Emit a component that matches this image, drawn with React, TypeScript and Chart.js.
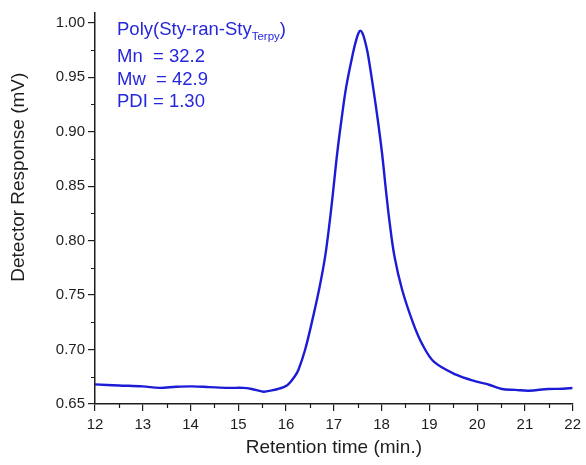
import React, { useEffect, useRef } from "react";
import { Chart, registerables } from "chart.js";

Chart.register(...registerables);

const RETENTION_TIME = [
  12.0, 12.5, 13.0, 13.35, 13.7, 14.04, 14.4, 14.8, 15.1, 15.28, 15.53, 15.7, 15.83, 15.95,
  16.04, 16.18, 16.26, 16.4, 16.55, 16.7, 16.82, 16.91, 16.98, 17.07, 17.16, 17.26, 17.4,
  17.47, 17.515, 17.555, 17.6, 17.645, 17.71, 17.82, 17.92, 18.01, 18.09, 18.17, 18.27, 18.43,
  18.66, 18.85, 19.1, 19.56, 19.97, 20.25, 20.52, 20.8, 21.08, 21.49, 21.8, 22.0,
];
const RESPONSE = [
  0.668, 0.667, 0.6662, 0.6648, 0.6658, 0.6662, 0.6655, 0.6648, 0.6648, 0.6638, 0.6613, 0.6625,
  0.6638, 0.6655, 0.6677, 0.6753, 0.6815, 0.7, 0.727, 0.757, 0.786, 0.816, 0.843, 0.88,
  0.911, 0.9414, 0.972, 0.9845, 0.9905, 0.9928, 0.9905, 0.9845, 0.972, 0.9414, 0.911, 0.88,
  0.8466, 0.816, 0.7854, 0.7549, 0.7243, 0.705, 0.6886, 0.6769, 0.6707, 0.6677, 0.6638, 0.663,
  0.6622, 0.6638, 0.664, 0.6647,
];
const X_MAJOR = [12, 13, 14, 15, 16, 17, 18, 19, 20, 21, 22];
const X_MINOR = [12.5, 13.5, 14.5, 15.5, 16.5, 17.5, 18.5, 19.5, 20.5, 21.5];
const Y_MAJOR = [0.65, 0.7, 0.75, 0.8, 0.85, 0.9, 0.95, 1.0];
const Y_MINOR = [0.675, 0.725, 0.775, 0.825, 0.875, 0.925, 0.975];
const ANNOTATION_TITLE = "Poly(Sty-ran-Sty";
const ANNOTATION_SUB = "Terpy";
const ANNOTATION_LINES = ["Mn  = 32.2", "Mw  = 42.9", "PDI = 1.30"];
const X_TITLE = "Retention time (min.)";
const Y_TITLE = "Detector Response (mV)";

const FONT = 'Arial, "Liberation Sans", Helvetica, sans-serif';
const AXIS_COLOR = "#1e1e1e";
const BLUE = "#1c1cd6";
const TEXT_BLUE = "#2626dc";

const extrasPlugin = {
  id: "extras",
  afterDraw(chart: any) {
    const ctx = chart.ctx;
    const xs = chart.scales.x;
    const ys = chart.scales.y;
    const area = chart.chartArea;
    ctx.save();
    ctx.strokeStyle = AXIS_COLOR;
    ctx.lineWidth = 1.2;
    ctx.beginPath();
    for (const v of X_MINOR) {
      const px = Math.round(xs.getPixelForValue(v)) + 0.5;
      ctx.moveTo(px, area.bottom);
      ctx.lineTo(px, area.bottom + 4);
    }
    for (const v of Y_MINOR) {
      const py = Math.round(ys.getPixelForValue(v)) + 0.5;
      ctx.moveTo(area.left, py);
      ctx.lineTo(area.left - 4, py);
    }
    ctx.stroke();

    ctx.fillStyle = AXIS_COLOR;
    ctx.font = `19px ${FONT}`;
    ctx.textAlign = "center";
    ctx.textBaseline = "middle";
    ctx.translate(18.5, area.top + (area.bottom - area.top) * 0.42);
    ctx.rotate(-Math.PI / 2);
    ctx.fillText(Y_TITLE, 0, 0);
    ctx.restore();

    ctx.save();
    ctx.fillStyle = TEXT_BLUE;
    ctx.textAlign = "left";
    ctx.textBaseline = "alphabetic";
    const x0 = area.left + 22;
    ctx.font = `18.5px ${FONT}`;
    ctx.fillText(ANNOTATION_TITLE, x0, 35);
    const w1 = ctx.measureText(ANNOTATION_TITLE).width;
    ctx.font = `11.5px ${FONT}`;
    ctx.fillText(ANNOTATION_SUB, x0 + w1, 40);
    const w2 = ctx.measureText(ANNOTATION_SUB).width;
    ctx.font = `18.5px ${FONT}`;
    ctx.fillText(")", x0 + w1 + w2, 35);
    ANNOTATION_LINES.forEach((t, i) => {
      ctx.fillText(t, x0, 62 + i * 22.5);
    });
    ctx.restore();
  },
};

export default function App() {
  const ref = useRef<HTMLCanvasElement | null>(null);
  useEffect(() => {
    if (!ref.current) return;
    const data = RETENTION_TIME.map((x, i) => ({ x, y: RESPONSE[i] }));
    const chart = new Chart(ref.current, {
      type: "line",
      data: {
        datasets: [
          {
            data,
            borderColor: BLUE,
            borderWidth: 2.4,
            pointRadius: 0,
            fill: false,
            tension: 0.35,
          },
        ],
      },
      plugins: [extrasPlugin],
      options: {
        responsive: false,
        animation: false,
        layout: { padding: { top: 13, right: 8, left: 0, bottom: 0 } },
        plugins: { legend: { display: false }, tooltip: { enabled: false } },
        scales: {
          x: {
            type: "linear",
            min: 12,
            max: 22,
            afterBuildTicks: (s: any) => {
              s.ticks = X_MAJOR.map((v) => ({ value: v }));
            },
            afterFit: (s: any) => {
              s.height = 61;
            },
            ticks: {
              font: { family: FONT, size: 15 },
              color: AXIS_COLOR,
              padding: 5,
              maxRotation: 0,
              autoSkip: false,
              callback: (v: any) => String(v),
            },
            grid: { drawOnChartArea: false, drawTicks: true, tickLength: 7, color: AXIS_COLOR, lineWidth: 1.2 },
            border: { display: true, color: AXIS_COLOR, width: 1.5 },
            title: {
              display: true,
              text: X_TITLE,
              font: { family: FONT, size: 19 },
              color: AXIS_COLOR,
              padding: { top: 0, bottom: 6 },
            },
          },
          y: {
            type: "linear",
            min: 0.65,
            max: 1.009,
            afterBuildTicks: (s: any) => {
              s.ticks = Y_MAJOR.map((v) => ({ value: v }));
            },
            afterFit: (s: any) => {
              s.width = 95;
            },
            ticks: {
              font: { family: FONT, size: 15 },
              color: AXIS_COLOR,
              padding: 3,
              autoSkip: false,
              callback: (v: any) => Number(v).toFixed(2),
            },
            grid: { drawOnChartArea: false, drawTicks: true, tickLength: 7, color: AXIS_COLOR, lineWidth: 1.2 },
            border: { display: true, color: AXIS_COLOR, width: 1.5 },
          },
        },
      },
    });
    return () => chart.destroy();
  }, []);
  return (
    <div style={{ position: "absolute", left: 0, top: 0, width: 586, height: 465, background: "#fff" }}>
      <canvas ref={ref} width={586} height={465} />
    </div>
  );
}
